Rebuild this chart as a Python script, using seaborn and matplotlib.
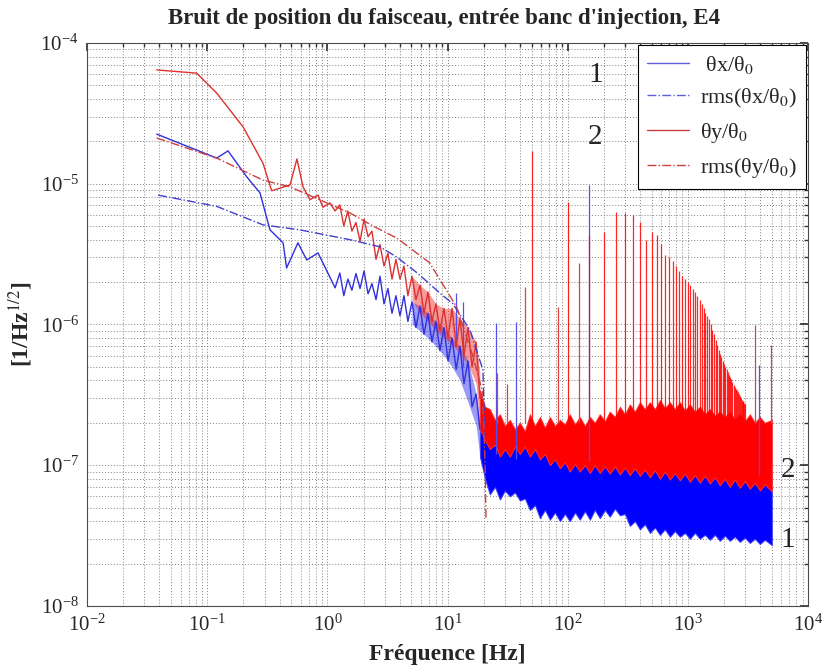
import matplotlib
matplotlib.use("Agg")
import matplotlib.pyplot as plt
import seaborn as sns
from matplotlib.lines import Line2D
from matplotlib.ticker import LogLocator, NullFormatter

# --- low frequency part ---
fx_low = [0.038, 0.12, 0.149, 0.213, 0.275, 0.333, 0.428, 0.458, 0.569, 0.673, 0.836, 1.16]
thx_low = [2.25e-5, 1.52e-5, 1.71e-5, 1.12e-5, 8.6e-6, 4.7e-6, 3.8e-6, 2.52e-6, 3.8e-6, 2.87e-6, 3.22e-6, 1.82e-6]

fy_low = [0.038, 0.0818, 0.12, 0.199, 0.291, 0.344, 0.489, 0.558, 0.627, 0.716, 0.836, 0.918, 1.05, 1.16]
thy_low = [6.43e-5, 6.1e-5, 4.4e-5, 2.53e-5, 1.40e-5, 8.9e-6, 9.8e-6, 1.50e-5, 9.5e-6, 7.7e-6, 8.3e-6, 6.8e-6, 7.3e-6, 6.4e-6]

# --- noisy middle part (1.3 - 19 Hz), through the wiggles ---
f_mid = [1.27, 1.37, 1.48, 1.60, 1.73, 1.87, 2.02, 2.18, 2.35, 2.54, 2.74, 2.96, 3.19, 3.45,
         3.72, 4.02, 4.34, 4.68, 5.06, 5.46, 5.9, 6.37, 6.87, 7.42, 8.01, 8.65, 9.34, 10.1,
         10.9, 11.8, 12.7, 13.7, 14.8, 16.0, 17.3, 18.6]
thx_mid = [2.32e-6, 1.6e-6, 2.1e-6, 1.75e-6, 2.3e-6, 1.8e-6, 2.4e-6, 1.65e-6, 1.95e-6, 1.5e-6,
           2.2e-6, 1.4e-6, 1.8e-6, 1.2e-6, 1.6e-6, 1.15e-6, 1.6e-6, 1.05e-6, 1.45e-6, 9.5e-7,
           1.35e-6, 8.5e-7, 1.2e-6, 7.5e-7, 1.05e-6, 6.5e-7, 9.5e-7, 5.5e-7, 8.0e-7, 4.8e-7,
           7.0e-7, 3.8e-7, 5.5e-7, 2.6e-7, 3.2e-7, 1.8e-7]
thy_mid = [7.06e-6, 5.0e-6, 6.4e-6, 4.6e-6, 5.3e-6, 3.9e-6, 5.6e-6, 4.2e-6, 4.6e-6, 2.9e-6,
           3.7e-6, 2.6e-6, 3.2e-6, 2.1e-6, 2.9e-6, 2.1e-6, 2.6e-6, 1.6e-6, 2.2e-6, 1.5e-6,
           1.9e-6, 1.2e-6, 1.7e-6, 1.05e-6, 1.4e-6, 9.0e-7, 1.3e-6, 8.0e-7, 1.3e-6, 7.0e-7,
           1.1e-6, 6.0e-7, 9.5e-7, 5.0e-7, 7.5e-7, 3.0e-7]

# where the middle part turns into a dense band (5 - 19 Hz)
f_env = [5.06, 5.9, 6.87, 8.01, 9.34, 10.9, 12.7, 14.8, 17.3, 18.6]
thx_env_hi = [1.45e-6, 1.35e-6, 1.2e-6, 1.05e-6, 9.5e-7, 8.0e-7, 7.0e-7, 5.5e-7, 3.2e-7, 2.0e-7]
thx_env_lo = [1.0e-6, 9.0e-7, 8.0e-7, 7.0e-7, 6.0e-7, 5.0e-7, 4.0e-7, 2.8e-7, 1.9e-7, 1.15e-7]
thy_env_hi = [2.2e-6, 1.9e-6, 1.7e-6, 1.4e-6, 1.3e-6, 1.3e-6, 1.1e-6, 9.5e-7, 7.5e-7, 4.5e-7]
thy_env_lo = [1.5e-6, 1.2e-6, 1.05e-6, 9.0e-7, 8.0e-7, 7.2e-7, 6.2e-7, 5.2e-7, 3.8e-7, 1.9e-7]

# --- dense noise band above 18 Hz (upper / lower envelope) ---
f_band = [18.6, 20.5, 22.5, 24.8, 27.3, 30.0, 33.0, 36.4, 40.0, 44.0,
          48.5, 53.4, 58.7, 64.6, 71.1, 78.3, 86.1, 94.8, 104, 115,
          126, 139, 153, 168, 185, 204, 224, 247, 272, 299,
          329, 362, 399, 439, 483, 532, 585, 644, 709, 780,
          858, 945, 1040, 1144, 1259, 1386, 1525, 1678, 1845, 2031,
          2235, 2460, 2708, 2980, 3280, 3610, 3972, 4370, 5000]
thy_hi = [3.4e-7, 2.6e-7, 2.5e-7, 2.1e-7, 2.3e-7, 1.9e-7, 2.1e-7, 1.8e-7, 2.0e-7, 1.75e-7,
          2.3e-7, 1.9e-7, 2.2e-7, 1.85e-7, 2.2e-7, 1.9e-7, 2.1e-7, 1.95e-7, 2.3e-7, 1.95e-7,
          2.2e-7, 1.9e-7, 2.2e-7, 2.0e-7, 2.3e-7, 2.05e-7, 2.4e-7, 2.2e-7, 2.6e-7, 2.3e-7,
          2.7e-7, 2.4e-7, 2.8e-7, 2.5e-7, 2.8e-7, 2.5e-7, 2.9e-7, 2.55e-7, 2.8e-7, 2.5e-7,
          2.8e-7, 2.45e-7, 2.7e-7, 2.4e-7, 2.6e-7, 2.3e-7, 2.5e-7, 2.25e-7, 2.4e-7, 2.2e-7,
          2.4e-7, 2.1e-7, 2.3e-7, 2.05e-7, 2.3e-7, 2.0e-7, 2.2e-7, 2.0e-7, 2.1e-7]
thy_lo = [1.8e-7, 1.5e-7, 1.3e-7, 1.4e-7, 1.15e-7, 1.3e-7, 1.15e-7, 1.35e-7, 1.2e-7, 1.35e-7,
          1.15e-7, 1.3e-7, 1.1e-7, 1.2e-7, 1.0e-7, 1.1e-7, 9.5e-8, 1.05e-7, 9.0e-8, 1.02e-7,
          9.0e-8, 1.0e-7, 8.8e-8, 1.0e-7, 8.8e-8, 9.8e-8, 8.7e-8, 9.8e-8, 8.6e-8, 9.6e-8,
          8.5e-8, 9.5e-8, 8.4e-8, 9.3e-8, 8.2e-8, 9.2e-8, 8.0e-8, 9.0e-8, 7.9e-8, 8.8e-8,
          7.8e-8, 8.7e-8, 7.6e-8, 8.5e-8, 7.5e-8, 8.4e-8, 7.4e-8, 8.2e-8, 7.2e-8, 8.0e-8,
          7.0e-8, 7.9e-8, 6.9e-8, 7.7e-8, 6.8e-8, 7.5e-8, 6.6e-8, 7.3e-8, 6.5e-8]
thx_hi = [2.0e-7, 1.7e-7, 1.5e-7, 1.55e-7, 1.4e-7, 1.5e-7, 1.35e-7, 1.45e-7, 1.3e-7, 1.4e-7,
          1.25e-7, 1.3e-7, 1.2e-7, 1.28e-7, 1.15e-7, 1.22e-7, 1.1e-7, 1.18e-7, 1.08e-7, 1.15e-7,
          1.05e-7, 1.12e-7, 1.04e-7, 1.1e-7, 1.03e-7, 1.08e-7, 1.0e-7, 1.06e-7, 9.8e-8, 1.04e-7,
          9.6e-8, 1.02e-7, 9.5e-8, 1.0e-7, 9.3e-8, 9.8e-8, 9.2e-8, 9.6e-8, 9.0e-8, 9.4e-8,
          8.9e-8, 9.3e-8, 8.8e-8, 9.2e-8, 8.7e-8, 9.0e-8, 8.6e-8, 8.9e-8, 8.5e-8, 8.8e-8,
          8.4e-8, 8.7e-8, 8.3e-8, 8.6e-8, 8.2e-8, 8.5e-8, 8.1e-8, 8.4e-8, 8.0e-8]
thx_lo = [1.15e-7, 8.0e-8, 6.2e-8, 7.0e-8, 5.7e-8, 6.6e-8, 6.0e-8, 6.4e-8, 5.6e-8, 5.8e-8,
          4.8e-8, 5.2e-8, 4.2e-8, 4.8e-8, 4.1e-8, 4.6e-8, 4.0e-8, 4.5e-8, 4.0e-8, 4.6e-8,
          4.1e-8, 4.7e-8, 4.1e-8, 4.8e-8, 4.2e-8, 4.8e-8, 4.3e-8, 4.9e-8, 4.4e-8, 4.5e-8,
          3.7e-8, 4.0e-8, 3.5e-8, 3.8e-8, 3.3e-8, 3.6e-8, 3.2e-8, 3.5e-8, 3.1e-8, 3.4e-8,
          3.1e-8, 3.3e-8, 3.0e-8, 3.3e-8, 3.0e-8, 3.2e-8, 2.95e-8, 3.2e-8, 2.9e-8, 3.15e-8,
          2.9e-8, 3.1e-8, 2.85e-8, 3.05e-8, 2.8e-8, 3.0e-8, 2.75e-8, 2.95e-8, 2.7e-8]

# --- rms curves (dash-dot) ---
f_rmsx = [0.039, 0.12, 0.291, 0.59, 1.54, 2.74, 3.8, 5.6, 8.64, 11.1, 15.4, 19.7, 20.5]
rms_x = [8.3e-6, 6.9e-6, 5.1e-6, 4.7e-6, 4.0e-6, 3.56e-6, 3.0e-6, 2.32e-6, 1.67e-6, 1.4e-6,
         9.1e-7, 4.75e-7, 1.5e-7]
f_rmsy = [0.038, 0.12, 0.291, 0.487, 1.54, 2.4, 3.8, 7.1, 11.9, 16.3, 19.4, 20.5, 20.9]
rms_y = [2.11e-5, 1.52e-5, 1.06e-5, 9.5e-6, 6.2e-6, 5.0e-6, 4.1e-6, 2.74e-6, 1.33e-6, 5.9e-7,
         3.4e-7, 1.09e-7, 4.1e-8]

# --- 50 Hz comb on theta_y ---
comb_f = [50, 100, 150, 200, 250, 300, 350, 400, 450, 500, 550, 600, 650, 700, 750, 800, 850, 900,
          950, 1000, 1050, 1100, 1150, 1200, 1250, 1300, 1350, 1400, 1450, 1500, 1550, 1600, 1650,
          1700, 1750, 1800, 1850, 1900, 1950, 2000, 2050, 2100, 2150, 2200, 2250, 2300, 2350, 2400,
          2450, 2500, 2550, 2600, 2650, 2700, 2750, 2800, 2850, 2900, 2950, 3000]
comb_y = [1.7e-5, 7.4e-6, 4.3e-6, 4.5e-6, 6.3e-6, 6.2e-6, 6.0e-6, 5.3e-6, 4.0e-6, 4.5e-6, 4.3e-6,
          3.7e-6, 3.1e-6, 3.0e-6, 2.8e-6, 2.6e-6, 2.4e-6, 2.2e-6, 2.1e-6, 2.0e-6, 1.9e-6, 1.8e-6,
          1.7e-6, 1.6e-6, 1.5e-6, 1.4e-6, 1.3e-6, 1.2e-6, 1.15e-6, 1.1e-6, 1.0e-6, 9.2e-7, 8.5e-7,
          7.8e-7, 7.2e-7, 6.6e-7, 6.2e-7, 5.9e-7, 5.5e-7, 5.2e-7, 5.0e-7, 4.8e-7, 4.6e-7, 4.4e-7,
          4.2e-7, 4.1e-7, 3.9e-7, 3.7e-7, 3.6e-7, 3.5e-7, 3.4e-7, 3.3e-7, 3.2e-7, 3.1e-7, 3.0e-7,
          2.9e-7, 2.85e-7, 2.8e-7, 2.75e-7, 2.7e-7]
# other isolated lines (frequency, top, bottom)
spk_y_f = [26, 31, 44, 83, 125, 3600, 4900]
spk_y_v = [4.5e-7, 3.8e-7, 1.85e-6, 1.33e-6, 2.73e-6, 9.9e-7, 7.15e-7]
spk_y_b = [2e-7, 2e-7, 2e-7, 2e-7, 2e-7, 2e-7, 2e-7]
spk_x_f = [11.7, 13.4, 25.3, 37.1, 150, 3900]
spk_x_v = [1.67e-6, 1.44e-6, 1.02e-6, 1.04e-6, 9.8e-6, 5.15e-7]
spk_x_b = [7.0e-7, 5.0e-7, 1.2e-7, 1.1e-7, 1.05e-7, 8.5e-8]

x_ticks = [1e-2, 1e-1, 1e0, 1e1, 1e2, 1e3, 1e4]
y_ticks = [1e-8, 1e-7, 1e-6, 1e-5, 1e-4]

BLUE = "#0000ff"
RED = "#ff0000"

sns.set_theme(style="white")
plt.rcParams["font.family"] = ["Liberation Serif", "DejaVu Serif"]
plt.rcParams["mathtext.fontset"] = "stix"

fig = plt.figure(figsize=(8.29, 6.71), dpi=100)
ax = fig.add_axes([0.105, 0.097, 0.8697, 0.839])
ax.set_xscale("log")
ax.set_yscale("log")

# theta_x (blue)
ax.fill_between(f_env, thx_env_lo, thx_env_hi, color="#2020ee", alpha=0.45, lw=0)
ax.fill_between(f_band, thx_lo, thx_hi, color=BLUE, lw=0.7, edgecolor="#4040ff")
sns.lineplot(x=fx_low + f_mid, y=thx_low + thx_mid, ax=ax, color="#3030dd", lw=1.0,
             sort=False, estimator=None)
ax.vlines(spk_x_f, spk_x_b, spk_x_v, color="#5050ee", lw=0.9)

# theta_y (red)
ax.vlines(comb_f, 2e-7, comb_y, color=RED, lw=0.9, alpha=0.85)
ax.vlines(spk_y_f, spk_y_b, spk_y_v, color="#e04040", lw=0.9)
ax.fill_between(f_env, thy_env_lo, thy_env_hi, color="#ee2020", alpha=0.45, lw=0)
ax.fill_between(f_band, thy_lo, thy_hi, color=RED, lw=0.7, edgecolor="#ff3030")
sns.lineplot(x=fy_low + f_mid, y=thy_low + thy_mid, ax=ax, color="#dd3030", lw=1.0,
             sort=False, estimator=None)

# rms curves
sns.lineplot(x=f_rmsx, y=rms_x, ax=ax, color="#4040cc", lw=1.0, linestyle="-.",
             sort=False, estimator=None)
sns.lineplot(x=f_rmsy, y=rms_y, ax=ax, color="#cc4040", lw=1.0, linestyle="-.",
             sort=False, estimator=None)

ax.set_xlim(1e-2, 1e4)
ax.set_ylim(1e-8, 1e-4)
ax.set_xticks(x_ticks)
ax.set_yticks(y_ticks)
ax.xaxis.set_minor_locator(LogLocator(base=10, subs=range(2, 10), numticks=100))
ax.yaxis.set_minor_locator(LogLocator(base=10, subs=range(2, 10), numticks=100))
ax.xaxis.set_minor_formatter(NullFormatter())
ax.yaxis.set_minor_formatter(NullFormatter())
ax.grid(True, which="both", linestyle=(0, (1, 2)), color="0.5", lw=0.7)
ax.tick_params(which="both", direction="in", top=True, right=True, color="0.2")
ax.tick_params(which="major", length=6, labelsize=15, pad=6)
ax.tick_params(which="minor", length=3)
for s in ax.spines.values():
    s.set_color("0.3")
    s.set_linewidth(0.8)

ax.set_xlabel("Fréquence [Hz]", fontsize=17, fontweight="bold", labelpad=6)
ax.set_ylabel("[1/Hz$^{1/2}$]", fontsize=17, fontweight="bold", labelpad=4)
fig.text(0.535, 0.973, "Bruit de position du faisceau, entrée banc d'injection, E4",
         ha="center", va="center", fontsize=16.5, fontweight="bold")

handles = [Line2D([], [], color="#6060dd", lw=1.0),
           Line2D([], [], color="#6060dd", lw=1.0, linestyle="-."),
           Line2D([], [], color="#cc4040", lw=1.0),
           Line2D([], [], color="#cc4040", lw=1.0, linestyle="-.")]
labels = [" θx/θ$_0$", "rms(θx/θ$_0$)", "θy/θ$_0$", "rms(θy/θ$_0$)"]
leg = ax.legend(handles, labels, loc="upper right", bbox_to_anchor=(0.997, 0.997),
                borderaxespad=0, fontsize=16, handlelength=1.9, handletextpad=0.5,
                labelspacing=0.5, borderpad=0.4,
                fancybox=False, framealpha=1, edgecolor="black")
leg.get_frame().set_linewidth(0.8)

for tx, ty, s in [(0.705, 0.943, "1"), (0.705, 0.833, "2"), (0.972, 0.242, "2"), (0.972, 0.117, "1")]:
    ax.text(tx, ty, s, transform=ax.transAxes, ha="center", va="center", fontsize=21)

plt.savefig("out.png", dpi=100)
